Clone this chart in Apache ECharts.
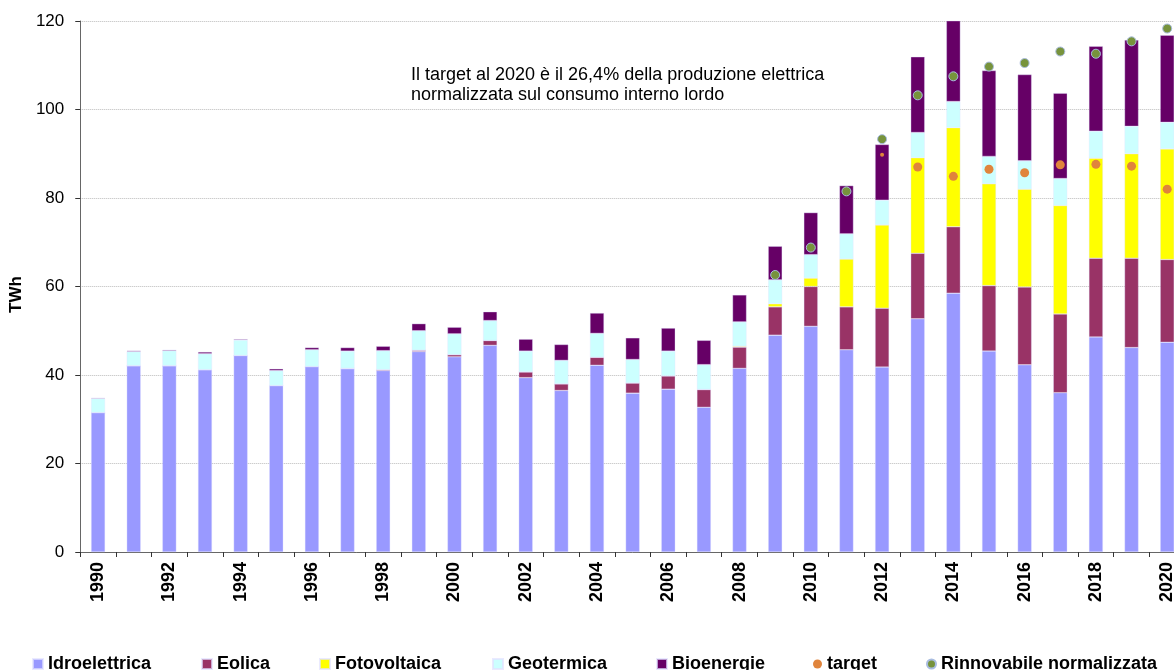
<!DOCTYPE html>
<html>
<head>
<meta charset="utf-8">
<script src="https://cdn.jsdelivr.net/npm/echarts@6/dist/echarts.min.js"></script>
<style>
html,body{margin:0;padding:0;background:#fff;overflow:hidden;width:1174px;height:670px;}
#chart{width:1200px;height:670px;}
</style>
</head>
<body>
<div id="chart"></div>
<script>
var years = ['1990','1991','1992','1993','1994','1995','1996','1997','1998','1999','2000','2001','2002','2003','2004','2005','2006','2007','2008','2009','2010','2011','2012','2013','2014','2015','2016','2017','2018','2019','2020'];
var idroelettrica = [31.5,42.1,42.1,41.2,44.4,37.6,41.9,41.4,41.0,45.3,44.1,46.7,39.4,36.5,42.2,35.9,36.8,32.7,41.5,49.0,51.0,45.7,41.8,52.7,58.5,45.4,42.3,36.0,48.6,46.2,47.4];
var eolica = [0,0,0,0,0,0,0,0.1,0.2,0.3,0.5,1.1,1.3,1.5,1.8,2.3,3.0,4.0,4.8,6.4,9.0,9.7,13.3,14.8,15.0,14.8,17.6,17.8,17.8,20.2,18.7];
var fotovoltaica = [0,0,0,0,0,0,0,0,0,0,0,0,0,0,0,0,0,0.04,0.2,0.7,1.9,10.8,18.8,21.6,22.4,23.0,22.1,24.5,22.6,23.6,25.0];
var geotermica = [3.2,3.2,3.4,3.6,3.5,3.4,3.8,3.9,4.3,4.4,4.7,4.5,4.7,5.3,5.4,5.3,5.6,5.6,5.5,5.4,5.3,5.7,5.6,5.7,5.9,6.2,6.4,6.1,6.1,6.2,6.0];
var bioenergie = [0.15,0.2,0.2,0.4,0.2,0.4,0.5,0.8,1.0,1.6,1.5,2.0,2.7,3.6,4.6,4.9,5.2,5.5,6.1,7.6,9.5,10.9,12.6,17.1,18.7,19.4,19.5,19.3,19.2,19.5,19.7];
var target = [null,null,null,null,null,null,null,null,null,null,null,null,null,null,null,null,null,null,null,null,null,null,89.8,87.0,84.9,86.5,85.7,87.5,87.6,87.2,82.0];
var rinnovabileNormalizzata = [null,null,null,null,null,null,null,null,null,null,null,null,null,null,null,null,null,null,null,62.6,68.8,81.5,93.3,103.2,107.5,109.7,110.5,113.1,112.6,115.4,118.3];
var yTicks = [0,20,40,60,80,100,120];
var noteText = 'Il target al 2020 è il 26,4% della produzione elettrica\nnormalizzata sul consumo interno lordo';

var FONT = 'Arial, "Liberation Sans", sans-serif';
var chart = echarts.init(document.getElementById('chart'), null, {renderer:'canvas'});

function barSeries(name, data, color){
  return {
    name: name, type: 'bar', stack: 'tot', data: data, barWidth: 14,
    itemStyle: {color: color, borderColor: 'rgba(225,225,255,0.7)', borderWidth: 0.5},
    emphasis: {disabled: true}
  };
}
function legendAt(name, left, icon, size){
  return {
    data: [name], left: left, top: 655, padding: 0, icon: icon,
    itemWidth: size, itemHeight: size, itemGap: 0, selectedMode: false,
    textStyle: {fontFamily: FONT, fontSize: 18, fontWeight: 'bold', color: '#000'}
  };
}

var option = {
  backgroundColor: '#fff',
  animation: false,
  grid: {left: 79, top: 21, width: 1106, height: 531, containLabel: false},
  xAxis: {
    type: 'category', data: years, boundaryGap: true,
    axisLine: {show: true, lineStyle: {color: '#666', width: 1}},
    axisTick: {show: true, interval: 0, length: 5, lineStyle: {color: '#333'}},
    axisLabel: {interval: 1, rotate: 90, margin: 10, fontFamily: FONT, fontSize: 18, fontWeight: 'bold', color: '#000'},
    splitLine: {show: false}
  },
  yAxis: {
    type: 'value', min: yTicks[0], max: yTicks[yTicks.length-1], interval: 20,
    name: 'TWh', nameLocation: 'middle', nameRotate: 90, nameGap: 46,
    nameTextStyle: {fontFamily: FONT, fontSize: 17, fontWeight: 'bold', color: '#000', padding: [0, 16, 0, 0]},
    axisLine: {show: true, lineStyle: {color: '#666', width: 1}},
    axisTick: {show: true, length: 5, lineStyle: {color: '#333'}},
    axisLabel: {margin: 16, fontFamily: FONT, fontSize: 17, color: '#000'},
    splitLine: {show: true, lineStyle: {color: '#bbb', type: 'dotted', width: 1}}
  },
  legend: [
    legendAt('Idroelettrica', 32, 'rect', 10),
    legendAt('Eolica', 201, 'rect', 10),
    legendAt('Fotovoltaica', 319, 'rect', 10),
    legendAt('Geotermica', 492, 'rect', 10),
    legendAt('Bioenergie', 656, 'rect', 10),
    legendAt('target', 813, 'circle', 9),
    legendAt('Rinnovabile normalizzata', 926, 'circle', 9)
  ],
  graphic: [{
    type: 'text', left: 411, top: 65,
    style: {text: noteText, font: '18px ' + FONT, lineHeight: 20, fill: '#000'}
  }],
  series: [
    barSeries('Idroelettrica', idroelettrica, '#9999ff'),
    barSeries('Eolica', eolica, '#993366'),
    barSeries('Fotovoltaica', fotovoltaica, '#ffff00'),
    barSeries('Geotermica', geotermica, '#ccffff'),
    barSeries('Bioenergie', bioenergie, '#660066'),
    {
      name: 'target', type: 'scatter', data: target, z: 5,
      symbol: 'circle',
      symbolSize: function(v, p){ return p.dataIndex === 22 ? 4 : 9; },
      itemStyle: {color: '#e0843c', opacity: 1},
      emphasis: {disabled: true}
    },
    {
      name: 'Rinnovabile normalizzata', type: 'scatter', data: rinnovabileNormalizzata, z: 6,
      symbol: 'circle', symbolSize: 9,
      itemStyle: {color: '#77933c', borderColor: '#a8bce0', borderWidth: 1, opacity: 1},
      emphasis: {disabled: true}
    }
  ]
};
chart.setOption(option);
</script>
</body>
</html>
